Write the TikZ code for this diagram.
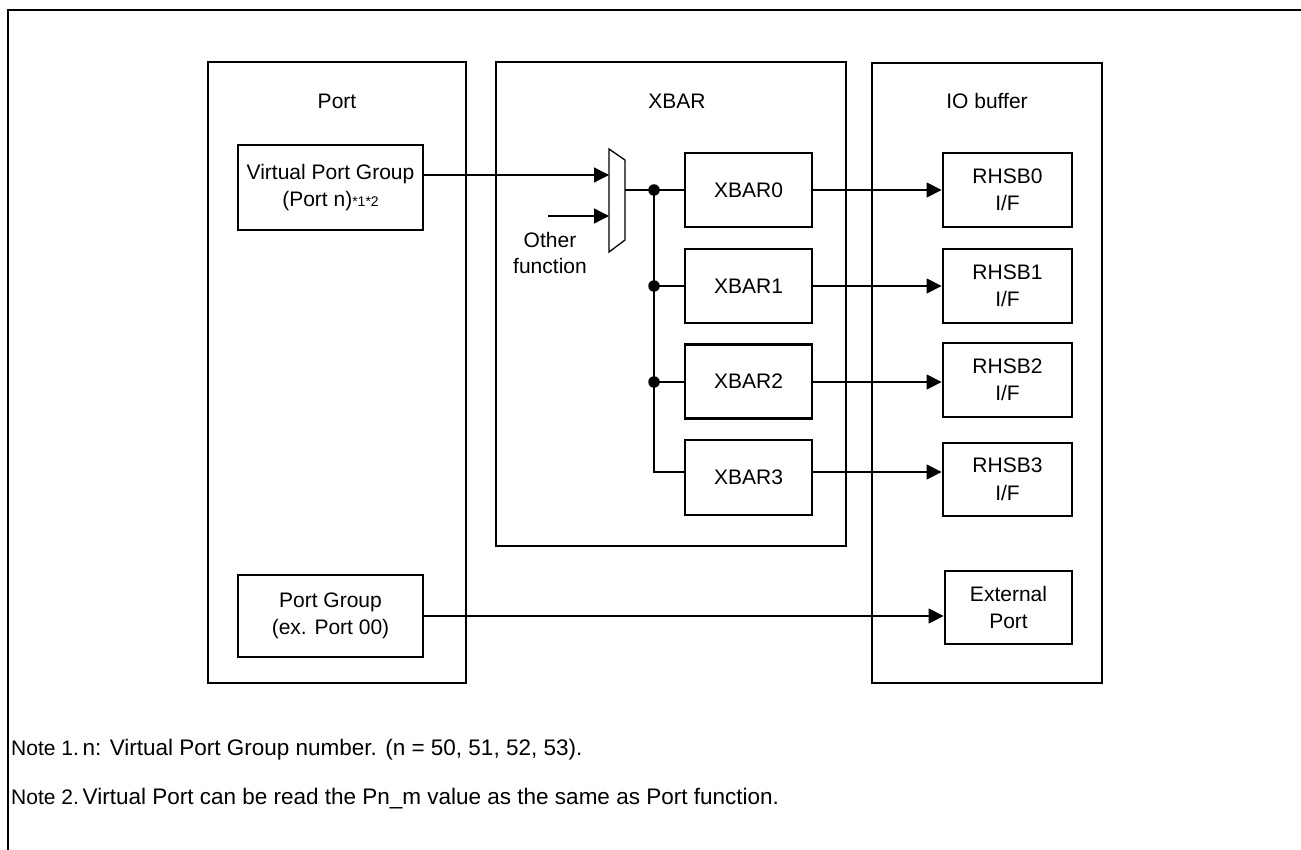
\documentclass[tikz,border=0pt]{standalone}
\usepackage{fontspec}
\setmainfont{Liberation Sans}
\usetikzlibrary{arrows.meta}
\begin{document}
\begin{tikzpicture}[x=1pt,y=-1pt,
  frame/.style={draw,line width=2.3pt},
  group/.style={draw,line width=2.6pt,inner sep=0pt},
  blk/.style={draw,line width=2.8pt,align=center,inner sep=0pt,font=\fontsize{21}{27.5}\selectfont},
  lbl/.style={font=\fontsize{21}{26}\selectfont,align=center,inner sep=0pt},
  conn/.style={line width=1.3pt},
  arr/.style={conn,-{Triangle[length=15pt,width=15pt]}},
  dotnode/.style={circle,fill,inner sep=0pt,minimum size=11.5pt},
  note/.style={font=\fontsize{22.5}{26}\selectfont,anchor=base west,inner sep=0pt},
  notehead/.style={note,font=\fontsize{21}{26}\selectfont}
]
\useasboundingbox (0,0) rectangle (1301,850);
% outer frame
\draw[frame] (8,850) -- (8,10) -- (1301,10);

% group boxes
\node[group,minimum width=258pt,minimum height=621pt] (port) at (337,372.5) {};
\node[group,minimum width=350pt,minimum height=484pt] (xbar) at (671,304) {};
\node[group,minimum width=230pt,minimum height=620pt] (io) at (987,373) {};
\node[lbl] (porttitle) at (337,101) {Port};
\node[lbl] (xbartitle) at (677,101) {XBAR};
\node[lbl] (iotitle) at (987,101) {IO buffer};

% port blocks
\node[blk,minimum width=185pt,minimum height=85pt] (vpg) at (330.5,187.5)
  {Virtual Port Group\\(Port n){\fontsize{14}{16}\selectfont *1*2}};
\node[blk,minimum width=185pt,minimum height=82pt] (pg) at (330.5,616)
  {Port Group\\(ex. Port 00)};

% xbar blocks
\node[blk,minimum width=127pt,minimum height=74pt] (xbar0) at (748.5,190) {XBAR0};
\node[blk,minimum width=127pt,minimum height=74pt] (xbar1) at (748.5,286) {XBAR1};
\node[blk,minimum width=127pt,minimum height=74pt] (xbar2) at (748.5,381.5) {XBAR2};
\node[blk,minimum width=127pt,minimum height=75pt] (xbar3) at (748.5,477.5) {XBAR3};

% io blocks
\node[blk,minimum width=129pt,minimum height=74pt] (rhsb0) at (1007.5,190) {RHSB0\\I/F};
\node[blk,minimum width=129pt,minimum height=74pt] (rhsb1) at (1007.5,286) {RHSB1\\I/F};
\node[blk,minimum width=129pt,minimum height=74pt] (rhsb2) at (1007.5,380) {RHSB2\\I/F};
\node[blk,minimum width=129pt,minimum height=73pt] (rhsb3) at (1007.5,479.5) {RHSB3\\I/F};
\node[blk,minimum width=127pt,minimum height=73pt] (ext) at (1008.5,607.5) {External\\Port};

% multiplexer
\draw[line width=1.3pt] (609,149) -- (625,160) -- (625,240) -- (609,252) -- cycle;
\coordinate (muxin1) at (609,175);
\coordinate (muxin2) at (609,216);
\coordinate (muxout) at (625,190);
\coordinate (ofstart) at (548,216);
\node[lbl] (oftext) at (550,252.5) {Other\\function};

% inputs to mux
\draw[arr] (vpg.east |- muxin1) -- (muxin1);
\draw[arr] (ofstart) -- (muxin2);

% bus
\coordinate (d0) at (654,190);
\coordinate (d1) at (654,286);
\coordinate (d2) at (654,382);
\coordinate (bend) at (654,472);
\draw[conn] (muxout) -- (d0) -- (xbar0.west);
\draw[conn] (d0) -- (bend) -- (bend -| xbar3.west);
\draw[conn] (d1) -- (xbar1.west);
\draw[conn] (d2) -- (d2 -| xbar2.west);
\node[dotnode] (dot0) at (d0) {};
\node[dotnode] (dot1) at (d1) {};
\node[dotnode] (dot2) at (d2) {};

% outputs
\draw[arr] (xbar0.east) -- (xbar0.east -| rhsb0.west);
\draw[arr] (xbar1.east) -- (xbar1.east -| rhsb1.west);
\draw[arr] (d2 -| xbar2.east) -- (d2 -| rhsb2.west);
\draw[arr] (bend -| xbar3.east) -- (bend -| rhsb3.west);
\draw[arr] (pg.east) -- (pg.east -| ext.west);

% notes
\node[notehead] (n1a) at (11,755.5) {Note 1.};
\node[note] (n1b) at (82.5,755.5) {n: Virtual Port Group number. (n = 50, 51, 52, 53).};
\node[notehead] (n2a) at (11,804) {Note 2.};
\node[note] (n2b) at (82.5,804) {Virtual Port can be read the Pn\_m value as the same as Port function.};
\end{tikzpicture}
\end{document}
